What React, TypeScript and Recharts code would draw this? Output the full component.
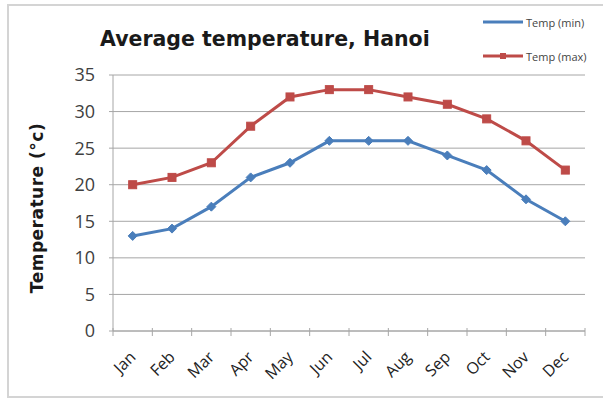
import React from 'react';
import { LineChart, Line, XAxis, YAxis, CartesianGrid } from 'recharts';

const months = ['Jan', 'Feb', 'Mar', 'Apr', 'May', 'Jun', 'Jul', 'Aug', 'Sep', 'Oct', 'Nov', 'Dec'];
const tempMin = [13, 14, 17, 21, 23, 26, 26, 26, 24, 22, 18, 15];
const tempMax = [20, 21, 23, 28, 32, 33, 33, 32, 31, 29, 26, 22];
const yTicks = [0, 5, 10, 15, 20, 25, 30, 35];

const data = months.map((m, i) => ({ month: m, min: tempMin[i], max: tempMax[i] }));

const BLUE = '#4A7EBB';
const RED = '#BE4B48';
const FONT = '"Open Sans", "DejaVu Sans", sans-serif';
const GRID = '#a6a6a6';
const HALF_BAND = 472 / 12 / 2;

const XTick = (props: any) => {
  const { x, y, payload, index, visibleTicksCount } = props;
  const axisY = y - 7;
  const isLast = index === (visibleTicksCount ?? 12) - 1;
  return (
    <g>
      <line x1={x - HALF_BAND} y1={axisY - 3} x2={x - HALF_BAND} y2={axisY + 5} stroke={GRID} />
      {isLast && <line x1={x + HALF_BAND} y1={axisY - 3} x2={x + HALF_BAND} y2={axisY + 5} stroke={GRID} />}
      <text
        x={x + 4}
        y={y + 20}
        transform={`rotate(-45, ${x + 4}, ${y + 20})`}
        textAnchor="end"
        fontSize={16}
        fontFamily={FONT}
        fill="#222"
      >
        {payload.value}
      </text>
    </g>
  );
};

const Diamond = (props: any) => {
  const { cx, cy } = props;
  if (cx == null || cy == null) return null;
  const r = 4.5;
  return <path d={`M${cx},${cy - r}L${cx + r},${cy}L${cx},${cy + r}L${cx - r},${cy}Z`} fill={BLUE} stroke={BLUE} />;
};

const Square = (props: any) => {
  const { cx, cy } = props;
  if (cx == null || cy == null) return null;
  const s = 4;
  return <rect x={cx - s} y={cy - s} width={2 * s} height={2 * s} fill={RED} stroke={RED} />;
};

export default function App() {
  return (
    <div style={{ position: 'absolute', left: 0, top: 0, width: 603, height: 403, background: '#fff', overflow: 'hidden' }}>
      <div
        style={{
          position: 'absolute',
          left: 7,
          top: 4,
          width: 620,
          height: 394,
          border: '2px solid #d4d4d4',
          boxSizing: 'border-box',
        }}
      />
      <div
        style={{
          position: 'absolute',
          left: 100,
          top: 26,
          fontFamily: '"DejaVu Sans", sans-serif',
          fontWeight: 700,
          fontSize: 20.5,
          lineHeight: '26px',
          color: '#1a1a1a',
          whiteSpace: 'nowrap',
        }}
      >
        Average temperature, Hanoi
      </div>
      <div style={{ position: 'absolute', left: 483, top: 13, fontFamily: FONT, fontSize: 11, color: '#444' }}>
        <div style={{ display: 'flex', alignItems: 'center', height: 18 }}>
          <svg width={40} height={8}>
            <line x1={0} y1={4} x2={40} y2={4} stroke={BLUE} strokeWidth={3} />
          </svg>
          <span style={{ marginLeft: 3 }}>Temp (min)</span>
        </div>
        <div style={{ display: 'flex', alignItems: 'center', height: 18, marginTop: 16 }}>
          <svg width={40} height={8}>
            <line x1={0} y1={4} x2={40} y2={4} stroke={RED} strokeWidth={3} />
            <rect x={17} y={1} width={6} height={6} fill={RED} />
          </svg>
          <span style={{ marginLeft: 3 }}>Temp (max)</span>
        </div>
      </div>
      <div style={{ position: 'absolute', left: 0, top: 0 }}>
        <LineChart
          width={603}
          height={403}
          data={data}
          margin={{ top: 75, right: 18, bottom: 22, left: 53 }}
        >
          <CartesianGrid vertical={false} stroke={GRID} strokeWidth={1} />
          <XAxis
            dataKey="month"
            height={50}
            tick={<XTick />}
            tickLine={false}
            axisLine={{ stroke: GRID }}
            tickSize={5}
            interval={0}
            padding={{ left: HALF_BAND, right: HALF_BAND }}
          />
          <YAxis
            width={60}
            domain={[0, 35]}
            ticks={yTicks}
            interval={0}
            tick={{ fontSize: 18, fill: '#404040', fontFamily: FONT }}
            tickLine={{ stroke: GRID }}
            axisLine={{ stroke: GRID }}
            tickSize={4}
            tickMargin={14}
            label={{
              value: 'Temperature (°c)',
              angle: -90,
              position: 'center',
              dx: -46,
              dy: 5,
              style: {
                fontSize: 17,
                fontWeight: 700,
                letterSpacing: 0.5,
                fill: '#1a1a1a',
                fontFamily: '"DejaVu Sans", sans-serif',
                textAnchor: 'middle',
              },
            }}
          />
          <Line
            type="linear"
            dataKey="min"
            stroke={BLUE}
            strokeWidth={3}
            dot={<Diamond />}
            isAnimationActive={false}
          />
          <Line
            type="linear"
            dataKey="max"
            stroke={RED}
            strokeWidth={3}
            dot={<Square />}
            isAnimationActive={false}
          />
        </LineChart>
      </div>
    </div>
  );
}
